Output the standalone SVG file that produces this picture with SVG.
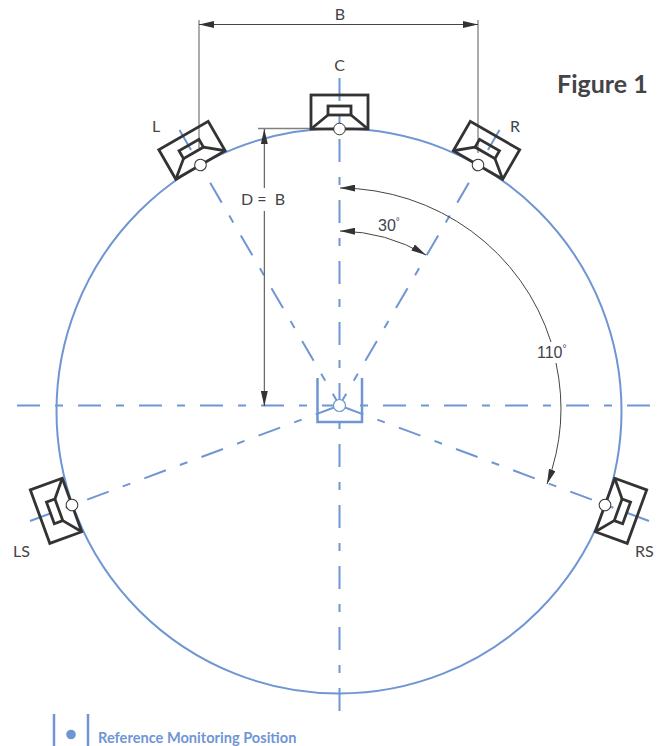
<svg xmlns="http://www.w3.org/2000/svg" width="657" height="746" viewBox="0 0 657 746">
<style>
text{font-family:"Lato","Noto Sans",sans-serif;fill:#444446;font-size:16px}
.n{font-family:"Liberation Sans",Arial,sans-serif;font-size:16px}
.b{fill:none;stroke:#6f96d3;stroke-width:2}
.cd{fill:none;stroke:#6f96d3;stroke-width:2;stroke-dasharray:23 15 8 15}
.spk{fill:none;stroke:#333;stroke-width:2.8;stroke-linejoin:miter}
.ext{stroke:#808080;stroke-width:1.3;fill:none}
.dim{stroke:#444;stroke-width:1;fill:none}
.hd{fill:#333;stroke:none}
</style>
<defs>
<g id="spk"><rect class="spk" x="-28.5" y="-34" width="57" height="34"/><rect class="spk" x="-11.5" y="-23" width="23" height="9"/><path class="spk" d="M-28.5 0L-11.5 -14M28.5 0L11.5 -14"/><circle cx="0" cy="0" r="5.8" fill="#fff" stroke="#333" stroke-width="1"/></g>
<marker id="ah" viewBox="0 0 15 7" refX="15" refY="3.500" markerWidth="15" markerHeight="7" markerUnits="userSpaceOnUse" orient="auto-start-reverse"><path class="hd" d="M0 0L15 3.500L0 7Z"/></marker>
</defs>
<circle class="b" cx="339" cy="411" r="282.5"/>
<g id="connectors">
<line class="cd" x1="339.5" y1="78" x2="339.5" y2="712"/>
<line class="cd" x1="17" y1="405.500" x2="652" y2="405.500"/>
<line class="cd" x1="179.500" y1="130" x2="337" y2="401"/>
<line class="cd" x1="499.500" y1="130" x2="342" y2="401"/>
<line class="cd" x1="30" y1="521" x2="334" y2="407.500"/>
<line class="cd" x1="649" y1="521" x2="345" y2="407.500"/>
<path class="ext" d="M199 20V148M478 20V153M258 128.500H311"/>
<line class="dim" x1="199" y1="24.500" x2="478" y2="24.500" marker-start="url(#ah)" marker-end="url(#ah)"/>
<line class="dim" x1="264.300" y1="129" x2="264.300" y2="188" marker-start="url(#ah)"/>
<line class="dim" x1="264.300" y1="211" x2="264.300" y2="406" marker-end="url(#ah)"/>
<path class="dim" d="M340 188A222 218 0 0 1 551 342" marker-start="url(#ah)"/>
<path class="dim" d="M556 363A222 218 0 0 1 547 484" marker-end="url(#ah)"/>
<path class="dim" d="M340 231A175 175 0 0 1 426 255" marker-start="url(#ah)" marker-end="url(#ah)"/>
</g>
<g id="node-C"><use href="#spk" transform="translate(339.5 129)"/><text x="339.500" y="71" text-anchor="middle">C</text></g>
<g id="node-L"><use href="#spk" transform="translate(200.500 165) rotate(-30)"/><text x="152" y="132">L</text></g>
<g id="node-R"><use href="#spk" transform="translate(478 165) rotate(30)"/><text x="510" y="132">R</text></g>
<g id="node-LS"><use href="#spk" transform="translate(72 505) rotate(-110)"/><text x="13" y="557">LS</text></g>
<g id="node-RS"><use href="#spk" transform="translate(605 505) rotate(110)"/><text x="635" y="557">RS</text></g>
<g id="node-listener"><path class="b" style="stroke-width:2.500" d="M317.500 378V422H362V378"/><circle cx="339.500" cy="405.500" r="6" fill="#fff" stroke="#6f96d3" stroke-width="1.200"/></g>
<text x="340" y="20" text-anchor="middle">B</text>
<text x="241" y="205" xml:space="preserve">D =  B</text>
<text class="n" x="378" y="231">30<tspan font-size="10" dy="-6">°</tspan></text>
<text class="n" x="537" y="358">110<tspan font-size="10" dy="-6">°</tspan></text>
<text x="557" y="93" style="font-size:25px;font-weight:700">Figure 1</text>
<g id="legend"><path class="b" style="stroke-width:2.500" d="M54 714V746M88 714V746"/><circle cx="71" cy="734.500" r="4.800" fill="#6f96d3"/><text x="98" y="742.500" style="font-size:14.600px;font-weight:700;fill:#6f96d3">Reference Monitoring Position</text></g>
</svg>
